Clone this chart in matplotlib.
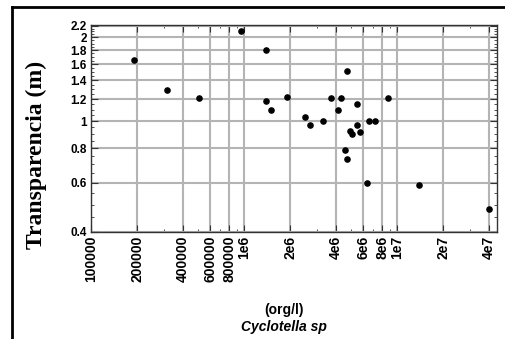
import numpy as np
import matplotlib
matplotlib.use('Agg')
import matplotlib.pyplot as plt
from matplotlib.ticker import FixedLocator, FixedFormatter, NullFormatter
from matplotlib.lines import Line2D

# Datos: densidad de Cyclotella sp (org/l) vs transparencia (m)
densidad = [1.90e5, 3.12e5, 5.10e5, 9.56e5, 1.40e6, 4.69e6, 1.40e6, 1.50e6,
            1.90e6, 3.70e6, 4.31e6, 4.11e6, 5.48e6, 8.69e6, 2.52e6, 2.69e6,
            3.28e6, 6.56e6, 7.21e6, 5.48e6, 4.93e6, 5.06e6, 5.70e6, 4.55e6,
            4.69e6, 6.34e6, 1.40e7, 3.99e7]
transparencia = [1.66, 1.29, 1.21, 2.11, 1.80, 1.51, 1.18, 1.10,
                 1.22, 1.21, 1.21, 1.10, 1.155, 1.21, 1.03, 0.97,
                 1.00, 1.00, 1.00, 0.97, 0.923, 0.898, 0.917, 0.79,
                 0.733, 0.60, 0.589, 0.481]

xticks = [1e5, 2e5, 4e5, 6e5, 8e5, 1e6, 2e6, 4e6, 6e6, 8e6, 1e7, 2e7, 4e7]
xlabels = ['100000', '200000', '400000', '600000', '800000', '1e6',
           '2e6', '4e6', '6e6', '8e6', '1e7', '2e7', '4e7']
yticks = [0.4, 0.6, 0.8, 1, 1.2, 1.4, 1.6, 1.8, 2, 2.2]
ylabels = ['0.4', '0.6', '0.8', '1', '1.2', '1.4', '1.6', '1.8', '2', '2.2']

fig = plt.figure(figsize=(5.06, 3.39), dpi=100)
ax = fig.add_axes([0.180, 0.3165, 0.802, 0.6105])

ax.set_xscale('log')
ax.set_yscale('log')
ax.set_xlim(1e5, 4.5e7)
ax.set_ylim(0.4, 2.22)

ax.scatter(densidad, transparencia, s=14, color='black', zorder=3)

ax.xaxis.set_major_locator(FixedLocator(xticks))
ax.xaxis.set_major_formatter(FixedFormatter(xlabels))
ax.xaxis.set_minor_formatter(NullFormatter())
ax.yaxis.set_major_locator(FixedLocator(yticks))
ax.yaxis.set_major_formatter(FixedFormatter(ylabels))
ax.yaxis.set_minor_locator(FixedLocator(np.arange(0.45, 2.2, 0.05)))
ax.yaxis.set_minor_formatter(NullFormatter())

ax.grid(True, which='major', color='#b4b4b4', linewidth=1.5)
ax.set_axisbelow(True)
ax.tick_params(which='both', direction='in', top=True, right=True, color='#333333')
ax.tick_params(which='major', length=5, pad=3)
ax.tick_params(which='minor', length=2.5)

for lab in ax.get_xticklabels():
    lab.set_rotation(90)
    lab.set_fontweight('bold')
    lab.set_fontfamily('Liberation Sans')
    lab.set_fontsize(10)
for lab in ax.get_yticklabels():
    lab.set_fontweight('bold')
    lab.set_fontfamily('Liberation Sans')
    lab.set_fontsize(8.5)

for s in ax.spines.values():
    s.set_color('#333333')
    s.set_linewidth(1)

ax.set_ylabel('Transparencia (m)', fontsize=17, fontweight='bold',
              fontfamily='Liberation Serif')
ax.yaxis.set_label_coords(-0.108, 0.37)

fig.text(0.562, 0.075, '(org/l)', ha='center', fontsize=10, fontweight='bold',
         fontfamily='Liberation Sans')
fig.text(0.562, 0.023, 'Cyclotella sp', ha='center', fontsize=10, fontweight='bold',
         fontstyle='italic', fontfamily='Liberation Sans')

# marco negro de la figura
fig.add_artist(Line2D([12 / 506, 1], [1 - 7 / 339, 1 - 7 / 339], color='black', lw=2))
fig.add_artist(Line2D([12 / 506, 12 / 506], [0, 1 - 7 / 339], color='black', lw=2))

fig.savefig('out.png', dpi=100)
